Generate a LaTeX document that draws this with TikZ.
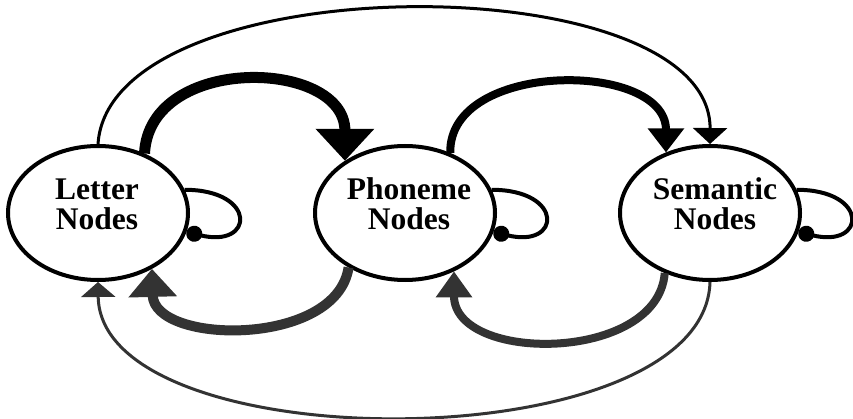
\documentclass[tikz,border=0pt]{standalone}
\usepackage{fontspec}
\setmainfont{Liberation Serif}
\usetikzlibrary{shapes.geometric,arrows.meta}
\begin{document}
\begin{tikzpicture}[x=1pt,y=-1pt,
  nodeell/.style={ellipse, draw, line width=4pt, minimum width=180pt, minimum height=134pt, inner sep=0pt},
  lbl/.style={font=\fontsize{31.5}{30}\selectfont\bfseries, align=center, inner sep=0pt},
  thinc/.style={line width=3pt},
  loopc/.style={line width=4pt, -{Circle[length=16pt,width=16pt]}},
  shade/.style={draw=black!80}
]
\useasboundingbox (0,0) rectangle (853,419);

\node[nodeell] (L) at (98,213) {};
\node[nodeell] (P) at (405,213) {};
\node[nodeell] (S) at (710,213) {};

\node[lbl] (Lt) at (97,204) {Letter\\Nodes};
\node[lbl] (Pt) at (409,204) {Phoneme\\Nodes};
\node[lbl] (St) at (715,204) {Semantic\\Nodes};

% top thin arc Letter -> Semantic
\draw[thinc, -{Triangle[length=16pt,width=34pt]}]
  (L.north) .. controls +(12,-180) and +(1,-181) .. (S.north);

% top thick Letter -> Phoneme
\draw[line width=11pt, -{Triangle[length=32pt,width=57pt]}]
  (L.52) .. controls +(5,-100) and +(0,-102) .. (P.139);

% top thick Phoneme -> Semantic
\draw[line width=8pt, -{Triangle[length=24pt,width=35pt]}]
  (P.53) .. controls +(-2,-93) and +(0,-92) .. (S.126);

% bottom thick Phoneme -> Letter
\draw[shade, line width=10pt, -{Triangle[length=28pt,width=47pt,fill=black!80]}]
  (P.224) .. controls +(-12,80) and +(2,76) .. (L.-46.5);

% bottom thick Semantic -> Phoneme
\draw[shade, line width=8pt, -{Triangle[length=26pt,width=35pt,fill=black!80]}]
  (S.-127) .. controls +(-7,90) and +(0,92) .. (P.-50);

% bottom thin Semantic -> Letter
\draw[shade, thinc, -{Triangle[length=15pt,width=34pt,fill=black!80]}]
  (S.south) .. controls +(-5,180) and +(2,180) .. (L.south);

% self loops
\draw[loopc] (L.15) .. controls +(73,0) and +(68,17) .. (L.-12);
\draw[loopc] (P.15) .. controls +(73,0) and +(68,17) .. (P.-12);
\draw[loopc] (S.15) .. controls +(73,0) and +(68,17) .. (S.-12);
\end{tikzpicture}
\end{document}
